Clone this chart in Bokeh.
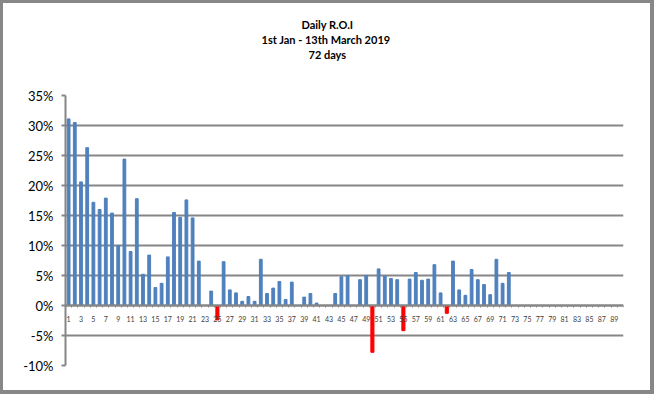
from bokeh.plotting import figure
from bokeh.models import ColumnDataSource, FixedTicker, NumeralTickFormatter, Range1d, Title
from bokeh.embed import file_html
from bokeh.resources import INLINE

# ---- data ----
days = list(range(1, 73))
roi_pct = [31.1, 30.5, 20.6, 26.3, 17.2, 16.0, 17.9, 15.4, 10.0, 24.4,
           9.0, 17.8, 5.2, 8.4, 3.0, 3.7, 8.1, 15.5, 14.7, 17.6,
           14.6, 7.4, 0.0, 2.4, -2.4, 7.3, 2.6, 2.1, 0.7, 1.5,
           0.7, 7.7, 2.0, 2.9, 4.0, 1.0, 3.9, 0.0, 1.4, 2.0,
           0.4, 0.0, 0.0, 2.0, 4.8, 5.0, 0.0, 4.3, 5.0, -7.8,
           6.1, 4.9, 4.5, 4.3, -4.2, 4.4, 5.5, 4.2, 4.4, 6.8,
           2.1, -1.3, 7.4, 2.6, 1.7, 6.0, 4.3, 3.5, 1.8, 7.7,
           3.7, 5.5]
x_labels = list(range(1, 90, 2))
n_categories = 90
y_ticks = [-0.10, -0.05, 0.0, 0.05, 0.10, 0.15, 0.20, 0.25, 0.30, 0.35]
title_lines = ["Daily R.O.I", "1st Jan - 13th March 2019", "72 days"]

roi = [v / 100.0 for v in roi_pct]
colors = ["#FF0000" if v < 0 else "#4F81BD" for v in roi]
widths = [0.5 if v < 0 else 0.45 for v in roi]
src = ColumnDataSource(dict(x=days, top=roi, color=colors, w=widths))

GRID = "#868686"
FONT = "Lato"

p = figure(width=647, height=387, output_backend="svg", toolbar_location=None,
           x_range=Range1d(0.5, n_categories + 0.5),
           y_range=Range1d(y_ticks[0], y_ticks[-1]),
           min_border_left=62, min_border_right=34, min_border_top=92,
           min_border_bottom=32)
p.styles = {"border-style": "solid", "border-color": "#878787",
            "border-width": "3px 4px 4px 3px", "box-sizing": "content-box"}
p.outline_line_color = None
p.background_fill_color = "white"
p.border_fill_color = "white"

p.vbar(x="x", top="top", bottom=0, width="w", color="color", source=src)

# y axis
p.yaxis.ticker = FixedTicker(ticks=y_ticks)
p.yaxis.formatter = NumeralTickFormatter(format="0%")
p.yaxis.axis_line_color = GRID
p.yaxis.axis_line_width = 2
p.yaxis.major_tick_line_color = GRID
p.yaxis.major_tick_line_width = 2
p.yaxis.major_tick_out = 4
p.yaxis.major_tick_in = 0
p.yaxis.minor_tick_line_color = None
p.yaxis.major_label_text_font = FONT
p.yaxis.major_label_text_font_size = "13px"
p.yaxis.major_label_text_color = "black"
p.yaxis.major_label_standoff = 8

# grid
p.ygrid.ticker = FixedTicker(ticks=y_ticks)
p.ygrid.grid_line_color = GRID
p.ygrid.grid_line_width = 2
p.xgrid.grid_line_color = None

# x axis at zero
p.xaxis.fixed_location = 0
p.xaxis.ticker = FixedTicker(ticks=x_labels,
                             minor_ticks=[i + 0.5 for i in range(n_categories + 1)])
p.xaxis.axis_line_color = GRID
p.xaxis.axis_line_width = 2
p.xaxis.major_tick_line_color = None
p.xaxis.minor_tick_line_color = GRID
p.xaxis.minor_tick_out = 2
p.xaxis.minor_tick_in = 0
p.xaxis.major_label_text_font = FONT
p.xaxis.major_label_text_font_size = "7px"
p.xaxis.major_label_text_color = "#404040"
p.xaxis.major_label_standoff = 4

# title: three centred lines (spacer first, nearest the frame)
p.add_layout(Title(text=" ", text_font_size="2px", standoff=31), "above")
title_offsets = [236, 196, 243]
for line, off in reversed(list(zip(title_lines, title_offsets))):
    p.add_layout(Title(text=line, align="left", offset=off, text_font=FONT,
                       text_font_style="bold", text_font_size="11px",
                       text_color="black", standoff=0), "above")

open("out.html", "w").write(file_html(p, INLINE))
